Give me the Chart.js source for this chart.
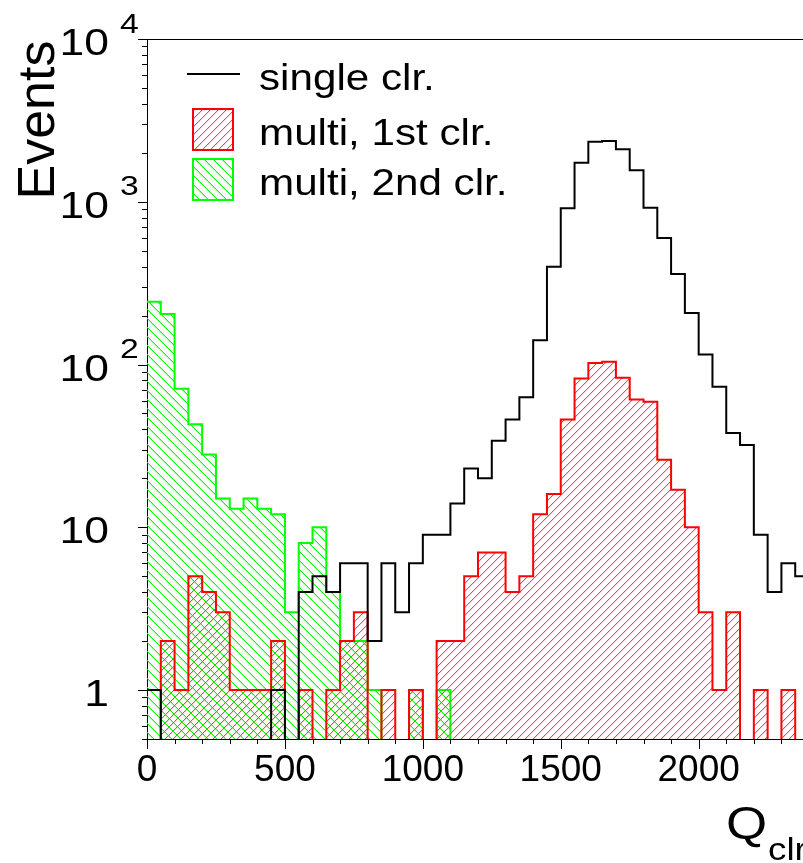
<!DOCTYPE html>
<html><head><meta charset="utf-8">
<script src="https://cdn.jsdelivr.net/npm/chart.js@4.4.1/dist/chart.umd.min.js"></script>
<style>
html,body{margin:0;padding:0;overflow:hidden;background:#fff;}
#wrap{position:absolute;left:0;top:0;width:809px;height:863px;}
</style></head><body>
<div id="wrap"><canvas id="c" width="809" height="863"></canvas></div>
<script>
// ---- data ----
const binWidth = 50;
const xRange = [0, 2400];
const yRange = [0.5, 10000];
const xTickLabels = [0, 500, 1000, 1500, 2000];
const yDecades = [1, 10, 100, 1000, 10000];
const seriesNames = ['single clr.', 'multi, 1st clr.', 'multi, 2nd clr.'];
const xTitle = ['Q', 'clr'];
const yTitle = 'Events';
const singleClr = [1,0,0,0,0,0,0,0,0,1, 0,4,5,4,6,6,2,6,3,6, 9,9,14,23,20,34,46,63,141,399, 911,1738,2340,2360,2100,1560,919,599,360,207, 115,73,38,32,9,4,6,5];
const multi1st  = [0,2,1,5,4,3,1,1,1,2, 0,1,0,1,2,3,0,1,0,1, 0,2,2,5,7,7,4,5,12,16, 46,82,102,104,83,61,59,26,17,10, 3,1,3,0,1,0,1,0];
const multi2nd  = [243,204,71,43,28,15,13,15,13,12, 3,8,10,4,2,2,1,0,0,1, 0,1,0,0,0,0,0,0,0,0, 0,0,0,0,0,0,0,0,0,0, 0,0,0,0,0,0,0,0];

const FONT = '"Liberation Sans", Arial, Helvetica, sans-serif';

function stepPoints(values) {
  const floor = yRange[0] * 0.1; // empty bins fall below the axis minimum (clipped)
  const pts = values.map((v, i) => ({ x: xRange[0] + i * binWidth, y: v > 0 ? v : floor }));
  const last = values[values.length - 1];
  pts.push({ x: xRange[0] + values.length * binWidth, y: last > 0 ? last : floor });
  return pts;
}

// pixel-exact hatch tiles
function hatch(main, soft, dir, s) {
  const c = document.createElement('canvas'); c.width = s; c.height = s;
  const g = c.getContext('2d');
  for (let i = 0; i < s; i++) {
    const yMain = dir > 0 ? (s - 1 - i) : i;
    const ySoft = dir > 0 ? (s - i) % s : (i + 1) % s;
    g.fillStyle = soft;
    g.fillRect(i, ySoft, 1, 1);
    g.fillStyle = main;
    g.fillRect(i, yMain, 1, 1);
  }
  return g.createPattern(c, 'repeat');
}
const redHatch = hatch('rgb(255,70,70)', 'rgba(255,120,120,0.35)', 1, 8);
const greenHatch = hatch('rgb(0,255,0)', 'rgba(0,255,0,0.35)', -1, 9);

function txt(ctx, s, x, y, size, sx, align) {
  ctx.save();
  ctx.font = size + 'px ' + FONT;
  ctx.fillStyle = '#000';
  ctx.textBaseline = 'alphabetic';
  ctx.textAlign = align || 'left';
  ctx.translate(x, y); ctx.scale(sx, 1);
  ctx.fillText(s, 0, 0);
  ctx.restore();
}

const deco = {
  id: 'deco',
  afterDraw(chart) {
    const { ctx, chartArea: a, scales: { x, y } } = chart;
    ctx.save();
    ctx.strokeStyle = '#000'; ctx.lineWidth = 1;
    ctx.beginPath();
    ctx.moveTo(a.left, a.top + 0.5); ctx.lineTo(a.right, a.top + 0.5);
    // y ticks (outside, left)
    for (let e = -1; e <= 4; e++) for (let m = 1; m <= 9; m++) {
      const v = m * Math.pow(10, e);
      if (v < yRange[0] - 1e-9 || v > yRange[1] + 1e-9) continue;
      const py = Math.round(y.getPixelForValue(v)) + 0.5;
      const len = m === 1 ? 9 : 5;
      ctx.moveTo(a.left, py); ctx.lineTo(a.left - len, py);
    }
    // x ticks (outside, below)
    for (let v = xRange[0]; v <= xRange[1]; v += 100) {
      const px = Math.round(x.getPixelForValue(v)) + 0.5;
      const len = v % 500 === 0 ? 10 : 5;
      ctx.moveTo(px, a.bottom); ctx.lineTo(px, a.bottom + len);
    }
    ctx.stroke();

    // y tick labels
    yDecades.forEach(v => {
      const py = y.getPixelForValue(v);
      const ex = Math.round(Math.log10(v));
      if (ex >= 2) {
        txt(ctx, '10', 109, py + 16, 37, 1.2, 'right');
        txt(ctx, String(ex), 120, py - 6.5, 27, 1.25, 'left');
      } else {
        txt(ctx, String(v), 109, py + 16, 37, 1.2, 'right');
      }
    });

    // y title
    ctx.save();
    ctx.translate(54, 120); ctx.rotate(-Math.PI / 2);
    ctx.font = '52px ' + FONT; ctx.fillStyle = '#000';
    ctx.textAlign = 'center'; ctx.textBaseline = 'alphabetic';
    ctx.fillText(yTitle, 0, 0);
    ctx.restore();

    // x title
    txt(ctx, xTitle[0], 726, 839, 46, 1.15, 'left');
    txt(ctx, xTitle[1], 768, 860, 32, 1.15, 'left');

    // legend
    ctx.lineWidth = 2; ctx.strokeStyle = '#000';
    ctx.beginPath(); ctx.moveTo(187, 74); ctx.lineTo(240, 74); ctx.stroke();
    ctx.fillStyle = redHatch; ctx.fillRect(193, 109, 40, 41);
    ctx.strokeStyle = '#ff0000'; ctx.strokeRect(193, 109, 40, 41);
    ctx.fillStyle = greenHatch; ctx.fillRect(193, 159, 40, 41);
    ctx.strokeStyle = '#00ff00'; ctx.strokeRect(193, 159, 40, 41);
    txt(ctx, seriesNames[0], 259, 89.5, 37, 1.14, 'left');
    txt(ctx, seriesNames[1], 259, 144.5, 37, 1.14, 'left');
    txt(ctx, seriesNames[2], 259, 194.5, 37, 1.14, 'left');
    ctx.restore();
  }
};

const common = { pointRadius: 0, borderWidth: 2, stepped: true, tension: 0,
  borderJoinStyle: 'miter', borderCapStyle: 'butt' };

new Chart(document.getElementById('c'), {
  type: 'line',
  data: {
    datasets: [
      Object.assign({ label: seriesNames[0], data: stepPoints(singleClr), borderColor: '#000000', fill: false }, common),
      Object.assign({ label: seriesNames[1], data: stepPoints(multi1st), borderColor: '#ff0000', backgroundColor: redHatch, fill: 'start' }, common),
      Object.assign({ label: seriesNames[2], data: stepPoints(multi2nd), borderColor: '#00ff00', backgroundColor: greenHatch, fill: 'start' }, common)
    ]
  },
  options: {
    responsive: false,
    animation: false,
    devicePixelRatio: 1,
    layout: { padding: { top: 39, right: 0, left: 0, bottom: 0 } },
    plugins: { legend: { display: false }, tooltip: { enabled: false } },
    scales: {
      x: {
        type: 'linear', position: 'bottom', min: xRange[0], max: xRange[1],
        grid: { display: false, drawTicks: false },
        border: { display: true, color: '#000', width: 1 },
        afterBuildTicks: (s) => { s.ticks = xTickLabels.map(v => ({ value: v })); },
        ticks: {
          autoSkip: false, maxRotation: 0, minRotation: 0, padding: 10,
          color: '#000', font: { family: FONT, size: 37 },
          callback: (v) => String(v)
        },
        afterFit: (s) => { s.height = 124; }
      },
      y: {
        type: 'logarithmic', position: 'left', min: yRange[0], max: yRange[1],
        grid: { display: false, drawTicks: false },
        border: { display: true, color: '#000', width: 1 },
        ticks: { display: false },
        afterFit: (s) => { s.width = 147; }
      }
    }
  },
  plugins: [deco]
});
</script>
</body></html>
